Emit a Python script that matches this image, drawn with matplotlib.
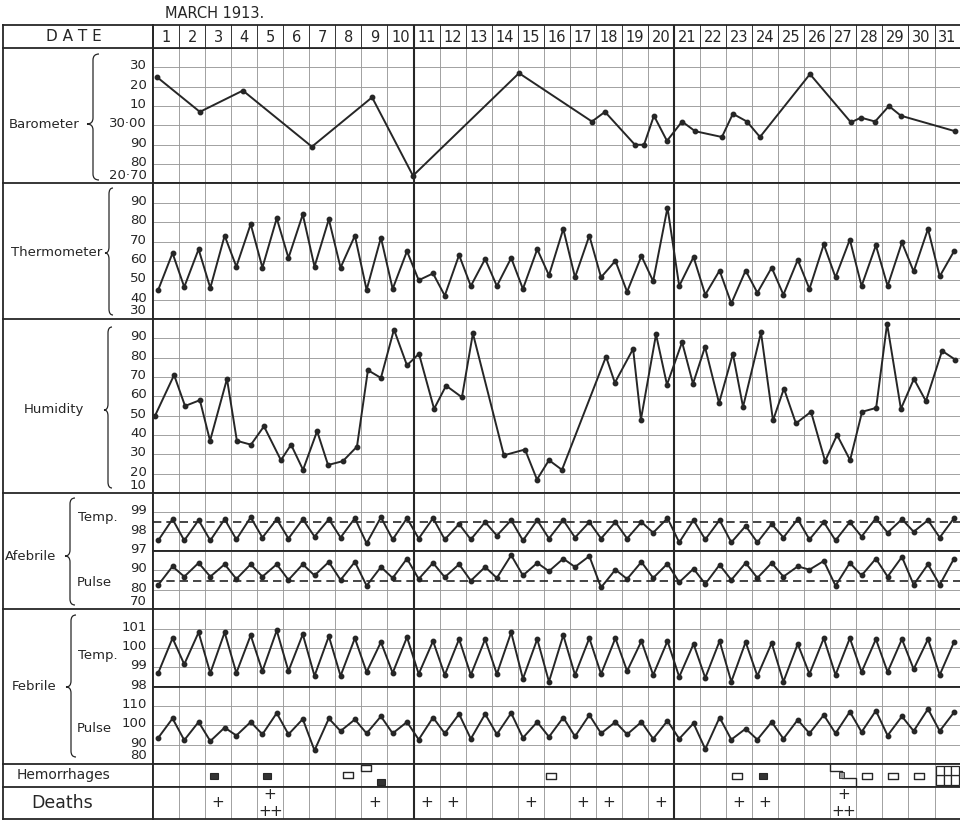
import numpy as np
import matplotlib.pyplot as plt
from matplotlib.path import Path
from matplotlib.patches import PathPatch, Rectangle
from matplotlib.transforms import offset_copy

# ---------------- data (March 1913) ----------------
days = np.arange(1, 32)

# barometer - irregular readings, x = days since the start of the 1st
baro_x = [0.15, 1.80, 3.45, 6.10, 8.41, 9.98, 14.05, 16.85, 17.35, 18.50, 18.85, 19.23, 19.73,
          20.31, 20.81, 21.84, 22.26, 22.80, 23.30, 25.22, 26.79, 27.18, 27.72, 28.25, 28.71, 30.79]
baro = [30.25, 30.07, 30.18, 29.89, 30.145, 29.74, 30.27, 30.02, 30.07, 29.90, 29.90, 30.05, 29.92,
        30.02, 29.97, 29.94, 30.06, 30.02, 29.94, 30.265, 30.016, 30.04, 30.02, 30.10, 30.05, 29.97]

# thermometer - morning / afternoon readings
thermo_am = [45, 46.5, 46, 57, 56.5, 61.5, 57, 56.5, 45, 45.5, 50, 42, 47, 47, 45.5, 52.5,
             51.5, 51.5, 44, 49.5, 47, 42.5, 38, 43.5, 42.5, 45.5, 51.5, 47, 47, 54.5, 52]
thermo_pm = [64, 66, 73, 79, 82, 84, 81.5, 73, 72, 65, 53.5, 63, 61, 61.5, 66, 76.5,
             73, 60, 62.5, 87.5, 62, 55, 55, 56.5, 60.5, 68.5, 71, 68, 69.5, 76.5, 65]

# humidity - irregular readings
hum_x = [0.08, 0.81, 1.23, 1.80, 2.19, 2.84, 3.22, 3.76, 4.26, 4.91, 5.30, 5.76, 6.30, 6.72, 7.29,
         7.83, 8.25, 8.75, 9.25, 9.75, 10.21, 10.79, 11.25, 11.86, 12.28, 13.47, 14.28, 14.74,
         15.20, 15.70, 17.39, 17.73, 18.43, 18.73, 19.31, 19.73, 20.31, 20.73, 21.19, 21.73,
         22.26, 22.65, 23.34, 23.80, 24.22, 24.68, 25.26, 25.80, 26.26, 26.76, 27.22, 27.76,
         28.18, 28.71, 29.21, 29.67, 30.29, 30.79]
hum = [50, 71, 55, 58, 37, 69, 37, 35, 44.5, 27, 35, 22, 42, 24.5, 26.5,
       34, 73.5, 69.5, 94.5, 76, 82, 53.5, 65.5, 59.5, 92.5, 29.5, 32.5, 17,
       27, 22, 80.5, 67, 84.5, 48, 92, 66, 88, 66.5, 85.5, 56.5,
       82, 54.5, 93, 47.5, 64, 46, 52, 26.5, 40, 27, 52, 54,
       97.5, 53.5, 69, 57.5, 83.5, 79]

# afebrile cases
afeb_t_am = [97.55, 97.55, 97.55, 97.6, 97.7, 97.65, 97.75, 97.7, 97.4, 97.6, 97.65, 97.6, 97.6, 97.8,
             97.55, 97.65, 97.7, 97.65, 97.65, 97.95, 97.45, 97.6, 97.45, 97.45, 97.7, 97.6, 97.55,
             97.75, 97.95, 98.0, 97.7]
afeb_t_pm = [98.65, 98.6, 98.65, 98.75, 98.65, 98.65, 98.65, 98.7, 98.75, 98.7, 98.7, 98.4, 98.5, 98.6,
             98.6, 98.6, 98.5, 98.5, 98.5, 98.7, 98.6, 98.6, 98.3, 98.4, 98.65, 98.5, 98.5, 98.7,
             98.65, 98.6, 98.7]
afeb_p_am = [82.5, 86.8, 86.8, 85.6, 86.8, 85.1, 87.4, 85.1, 82.1, 86.1, 85.6, 86.5, 84.7, 86.1, 87.4,
             89.6, 91.8, 81.2, 85.6, 86.1, 83.9, 83.0, 85.1, 86.1, 86.8, 90.4, 82.1, 87.4, 86.8, 82.6, 82.6]
afeb_p_pm = [92.1, 93.9, 93.2, 93.2, 93.2, 93.2, 94.4, 94.4, 91.8, 96.1, 93.9, 93.2, 91.8, 97.9, 93.9,
             96.1, 97.4, 90.4, 94.4, 93.5, 90.9, 92.9, 93.9, 93.9, 92.1, 94.9, 93.9, 96.1, 97.0, 93.2, 96.1]
afeb_t_normal = 98.5
afeb_p_normal = 84.5

# febrile cases
feb_t_am = [98.7, 99.15, 98.7, 98.7, 98.8, 98.8, 98.55, 98.55, 98.75, 98.7, 98.65, 98.6, 98.6, 98.65,
            98.4, 98.25, 98.6, 98.65, 98.8, 98.6, 98.5, 98.45, 98.25, 98.55, 98.25, 98.65, 98.6, 98.75,
            98.75, 98.9, 98.6]
feb_t_pm = [100.5, 100.8, 100.8, 100.65, 100.9, 100.7, 100.6, 100.5, 100.3, 100.55, 100.35, 100.45,
            100.45, 100.8, 100.45, 100.65, 100.5, 100.5, 100.35, 100.35, 100.2, 100.35, 100.3, 100.25,
            100.2, 100.5, 100.5, 100.45, 100.45, 100.45, 100.3]
feb_p_am = [93.5, 92.3, 91.8, 94.7, 95.3, 95.3, 87.0, 97.0, 95.8, 95.8, 92.6, 95.8, 93.0, 95.3, 93.5,
            94.0, 94.2, 95.8, 95.3, 93.0, 93.0, 87.7, 92.6, 92.6, 93.0, 95.8, 95.8, 96.5, 94.7, 97.0, 97.0]
feb_p_pm = [103.5, 101.7, 98.8, 101.7, 106.3, 103.2, 103.5, 103.0, 104.6, 101.7, 104.0, 105.8, 105.8,
            106.3, 101.7, 104.0, 105.3, 101.7, 101.7, 102.3, 101.0, 104.0, 98.2, 101.7, 102.8, 105.3,
            107.0, 107.5, 104.6, 108.4, 106.7]

# hemorrhages: position in the month, height in the row, kind of mark
hem_x = [2.34, 4.36, 7.49, 8.18, 8.77, 15.28, 22.40, 23.40, 27.40, 28.42, 29.39]
hem_y = [0.48, 0.48, 0.52, 0.83, 0.22, 0.48, 0.48, 0.48, 0.48, 0.48, 0.48]
hem_kind = ['solid', 'solid', 'open', 'open', 'solid', 'open', 'open', 'solid', 'open', 'open', 'open']
hem_step_day = 27     # stepped mark
hem_grid_day = 31     # cross-hatched cell

# deaths per day
death_days = [3, 5, 9, 11, 12, 15, 17, 18, 20, 23, 24, 27]
death_counts = [1, 3, 1, 1, 1, 1, 1, 1, 1, 1, 1, 3]

# ---------------- layout (pixels of the sheet) ----------------
W, H = 960, 821
X_TAB = 3
X_GRID = 153
DAY_W = 26.05
Y_HEAD = 25
Y_GRID = 48
CELL = 19.35
HEM_H = 23
DEATH_H = 32
AM, PM = 0.2, 0.75

INK = '#262626'
GRID = '#9a9a9a'

fig = plt.figure(figsize=(W / 100, H / 100), dpi=100)
fig.patch.set_facecolor('white')

bg = fig.add_axes([0, 0, 1, 1])
bg.set_xlim(0, W)
bg.set_ylim(H, 0)
bg.set_axis_off()


def day_axes(y0, y1, ylo=0.0, yhi=1.0, n=None, gridcol=GRID):
    ax = fig.add_axes([X_GRID / W, 1 - y1 / H, 31 * DAY_W / W, (y1 - y0) / H])
    ax.set_xlim(0, 31)
    ax.set_ylim(ylo, yhi)
    ax.set_xticks(np.arange(32))
    ax.set_yticks(np.linspace(ylo, yhi, n + 1) if n else [])
    ax.tick_params(length=0, labelbottom=False, labelleft=False)
    ax.grid(True, color=gridcol, lw=0.65)
    ax.set_axisbelow(True)
    for x in (10, 20):
        ax.axvline(x, color=INK, lw=1.5, zorder=1.5)
    for s in ax.spines.values():
        s.set_color(INK)
        s.set_linewidth(1.3)
    return ax


def twice_daily(am, pm):
    x = np.column_stack([days - 1 + AM, days - 1 + PM]).ravel()
    y = np.column_stack([am, pm]).ravel()
    return x, y


def draw_series(ax, x, y):
    ax.plot(x, y, color=INK, lw=1.4, marker='o', ms=3.2, zorder=3)


def ylabels(ax, vals, labels, bottom_up=True, size=9.5):
    lo = ax.get_ylim()[0]
    tr = offset_copy(ax.transData, fig=fig, x=0, y=1.5, units='dots')
    for v, t in zip(vals, labels):
        va = 'bottom' if (bottom_up and np.isclose(v, lo)) else 'center'
        ax.text(-0.24, v, t, ha='right', va=va, fontsize=size, color=INK, transform=tr)


def brace(x_tip, x_end, y0, y1, ym):
    xm = (x_tip + x_end) / 2
    r = 6
    verts = [(x_end, y0), (xm, y0), (xm, y0 + r), (xm, ym - r), (xm, ym), (x_tip, ym),
             (xm, ym), (xm, ym + r), (xm, y1 - r), (xm, y1), (x_end, y1)]
    codes = [Path.MOVETO, Path.CURVE3, Path.CURVE3, Path.LINETO, Path.CURVE3, Path.CURVE3,
             Path.CURVE3, Path.CURVE3, Path.LINETO, Path.CURVE3, Path.CURVE3]
    bg.add_patch(PathPatch(Path(verts, codes), fc='none', ec=INK, lw=0.9))


# ---------------- panel rows ----------------
rows = [('baro', 7, 29.70, 30.40), ('thermo', 7, 30, 100), ('hum', 9, 10, 100),
        ('afeb_t', 3, 97, 100), ('afeb_p', 3, 70, 100), ('feb_t', 4, 98, 102), ('feb_p', 4, 80, 120)]
axes = {}
edges = {}
y = Y_GRID
for key, n, lo, hi in rows:
    axes[key] = day_axes(y, y + n * CELL, lo, hi, n)
    edges[key] = (y, y + n * CELL)
    y += n * CELL
y_hem0 = y
y_dth0 = y + HEM_H
y_end = y_dth0 + DEATH_H

draw_series(axes['baro'], baro_x, baro)
draw_series(axes['thermo'], *twice_daily(thermo_am, thermo_pm))
draw_series(axes['hum'], hum_x, hum)
draw_series(axes['afeb_t'], *twice_daily(afeb_t_am, afeb_t_pm))
draw_series(axes['afeb_p'], *twice_daily(afeb_p_am, afeb_p_pm))
draw_series(axes['feb_t'], *twice_daily(feb_t_am, feb_t_pm))
draw_series(axes['feb_p'], *twice_daily(feb_p_am, feb_p_pm))
axes['afeb_t'].axhline(afeb_t_normal, color=INK, lw=1.2, ls=(0, (5, 3)), zorder=2.5)
axes['afeb_p'].axhline(afeb_p_normal, color=INK, lw=1.2, ls=(0, (5, 3)), zorder=2.5)

ylabels(axes['baro'], [30.3, 30.2, 30.1, 30.0, 29.9, 29.8, 29.7],
        ['30', '20', '10', '30·00', '90', '80', '20·70'])
ylabels(axes['thermo'], [90, 80, 70, 60, 50, 40, 30], ['90', '80', '70', '60', '50', '40', '30'])
ylabels(axes['hum'], [90, 80, 70, 60, 50, 40, 30, 20, 10],
        ['90', '80', '70', '60', '50', '40', '30', '20', '10'])
ylabels(axes['afeb_t'], [99, 98, 97], ['99', '98', '97'], bottom_up=False)
ylabels(axes['afeb_p'], [90, 80, 70], ['90', '80', '70'])
ylabels(axes['feb_t'], [101, 100, 99, 98], ['101', '100', '99', '98'], bottom_up=False)
ylabels(axes['feb_p'], [110, 100, 90, 80], ['110', '100', '90', '80'])

# ---------------- header ----------------
head = day_axes(Y_HEAD, Y_GRID, gridcol=INK)
for d in days:
    head.text(d - 0.5, 0.47, str(d), ha='center', va='center', fontsize=10.5, color=INK)
bg.text((X_TAB + X_GRID) / 2 - 4, (Y_HEAD + Y_GRID) / 2, 'D A T E', ha='center', va='center',
        fontsize=11, color=INK)
bg.text(X_GRID + 62, 13, 'MARCH 1913.', ha='center', va='center', fontsize=10.5, color=INK)

# ---------------- hemorrhages ----------------
hem = day_axes(y_hem0, y_dth0)
for x, yy, kind in zip(hem_x, hem_y, hem_kind):
    if kind == 'solid':
        w, h = 8 / DAY_W, 5.5 / HEM_H
        hem.add_patch(Rectangle((x - w / 2, yy - h / 2), w, h, fc='#333333', ec=INK, lw=0.8, zorder=3))
    else:
        w, h = 10 / DAY_W, 6.5 / HEM_H
        hem.add_patch(Rectangle((x - w / 2, yy - h / 2), w, h, fc='white', ec=INK, lw=1.0,
                                joinstyle='round', zorder=3))
s0 = hem_step_day - 1
hem.plot([s0, s0, s0 + 0.45, s0 + 0.45, s0 + 1, s0 + 1], [1, 0.7, 0.7, 0.38, 0.38, 0],
         color=INK, lw=1.0, zorder=3)
hem.add_patch(Rectangle((s0 + 0.32, 0.4), 0.22, 0.25, fc='#9a9a9a', ec=INK, lw=0.6, zorder=3))
g0 = hem_grid_day - 1
for i in range(3):
    for j in range(2):
        hem.add_patch(Rectangle((g0 + 0.06 + i * 0.29, 0.1 + j * 0.4), 0.29, 0.4,
                                fc='white', ec=INK, lw=0.9, zorder=3))

# ---------------- deaths ----------------
dth = day_axes(y_dth0, y_end)
for d, c in zip(death_days, death_counts):
    if c == 1:
        dth.text(d - 0.5, 0.5, '+', ha='center', va='center', fontsize=11, color=INK)
    else:
        dth.text(d - 0.5, 0.76, '+', ha='center', va='center', fontsize=11, color=INK)
        for dx in (-0.22, 0.22):
            dth.text(d - 0.5 + dx, 0.22, '+', ha='center', va='center', fontsize=11, color=INK)

# ---------------- label column ----------------
frame = dict(color=INK, lw=1.3)
bg.plot([X_TAB, X_TAB], [Y_HEAD, y_end], **frame)
bg.plot([X_GRID, X_GRID], [Y_HEAD, y_end], **frame)
row_lines = [Y_HEAD, Y_GRID, edges['baro'][1], edges['thermo'][1], edges['hum'][1],
             edges['afeb_p'][1], y_hem0, y_dth0, y_end]
for yy in row_lines:
    bg.plot([X_TAB, X_GRID], [yy, yy], **frame)

lab = dict(fontsize=9.5, color=INK, va='center')
bg.text(9, 124, 'Barometer', ha='left', **lab)
brace(87, 99, 54, 180, 124)
bg.text(11, 253, 'Thermometer', ha='left', **lab)
brace(105, 113, 188, 315, 253)
bg.text(24, 410, 'Humidity', ha='left', **lab)
brace(104, 112, 327, 488, 410)
bg.text(5, 556, 'Afebrile', ha='left', **lab)
brace(65, 75, 498, 605, 556)
bg.text(78, 518, 'Temp.', ha='left', **lab)
bg.text(77, 582, 'Pulse', ha='left', **lab)
bg.text(12, 687, 'Febrile', ha='left', **lab)
brace(66, 76, 615, 757, 687)
bg.text(78, 655, 'Temp.', ha='left', **lab)
bg.text(77, 728, 'Pulse', ha='left', **lab)
bg.text(64, (y_hem0 + y_dth0) / 2, 'Hemorrhages', ha='center', fontsize=10, color=INK, va='center')
bg.text(62, (y_dth0 + y_end) / 2, 'Deaths', ha='center', fontsize=12.5, color=INK, va='center')

fig.savefig('out.png', dpi=100, facecolor='white')
